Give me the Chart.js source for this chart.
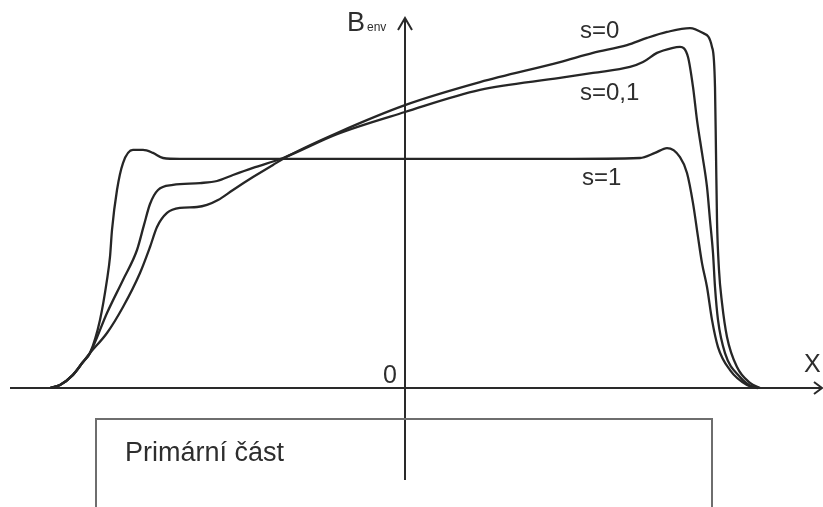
<!DOCTYPE html>
<html>
<head>
<meta charset="utf-8">
<script src="https://cdn.jsdelivr.net/npm/chart.js@4/dist/chart.umd.min.js"></script>
<style>
  html, body { margin: 0; padding: 0; background: #fff; }
  #wrap { width: 823px; height: 507px; }
</style>
</head>
<body>
<div id="wrap"><canvas id="envChart"></canvas></div>
<script>
// X position (relative units, 0 = axis) and B_env (relative, 1 = plateau of s=1)
const s1X = [-3.55, -3.45, -3.32, -3.22, -3.15, -3.05, -2.98, -2.95, -2.93, -2.88, -2.82, -2.72, -2.62, -2.52, -2.42, -2.25,
             -1.65, 0, 1.55, 2.35, 2.50, 2.62, 2.75, 2.82, 2.88, 2.93, 2.97, 3.02, 3.07, 3.13, 3.25, 3.42, 3.52];
const s1B = [0, 0.013, 0.057, 0.113, 0.152, 0.296, 0.470, 0.570, 0.687, 0.861, 0.978, 1.035, 1.035, 1.022, 1.000, 0.996,
             0.996, 0.996, 0.996, 1.0, 1.022, 1.043, 1.004, 0.935, 0.804, 0.657, 0.543, 0.439, 0.296, 0.178, 0.078, 0.013, 0];

const s01X = [-3.55, -3.45, -3.32, -3.22, -3.15, -2.98, -2.82, -2.68, -2.61, -2.55, -2.47, -2.32, -2.05, -1.88, -1.72, -1.52, -1.22,
              -0.68, 0, 0.75, 1.55, 1.88, 2.25, 2.38, 2.52, 2.67, 2.75, 2.83, 2.88, 2.92, 2.97, 3.02, 3.05, 3.08, 3.10,
              3.13, 3.20, 3.35, 3.48, 3.53];
const s01B = [0, 0.013, 0.057, 0.113, 0.152, 0.326, 0.470, 0.600, 0.709, 0.800, 0.861, 0.883, 0.891, 0.900, 0.926, 0.957, 1.0,
              1.104, 1.200, 1.296, 1.348, 1.370, 1.396, 1.417, 1.457, 1.478, 1.483, 1.439, 1.309, 1.165, 1.022, 0.874, 0.730, 0.587, 0.439,
              0.296, 0.152, 0.048, 0.004, 0];

const s0X = [-3.55, -3.45, -3.32, -3.22, -3.15, -2.98, -2.82, -2.65, -2.55, -2.48, -2.38, -2.25, -2.08, -1.98, -1.87, -1.72, -1.52, -1.32, -1.15,
             -0.68, 0, 0.75, 1.55, 1.88, 2.22, 2.42, 2.62, 2.85, 2.98, 3.07, 3.10, 3.11, 3.12, 3.14,
             3.17, 3.22, 3.32, 3.45, 3.55];
const s0B = [0, 0.013, 0.057, 0.113, 0.152, 0.239, 0.352, 0.500, 0.613, 0.700, 0.761, 0.783, 0.787, 0.796, 0.817, 0.861, 0.917, 0.970, 1.013,
             1.109, 1.230, 1.330, 1.417, 1.457, 1.491, 1.522, 1.548, 1.565, 1.543, 1.483, 1.309, 1.022, 0.730, 0.513,
             0.370, 0.222, 0.091, 0.022, 0];

const seriesLabels = ['s=0', 's=0,1', 's=1'];

const toPts = (xs, ys) => xs.map((x, i) => ({ x: x, y: ys[i] }));

const lineStyle = {
    showLine: true,
    borderColor: '#262626',
    borderWidth: 2.3,
    pointRadius: 0,
    fill: false,
    cubicInterpolationMode: 'monotone'
};

// axes, arrows, labels and the "primary part" box
const sketchPlugin = {
    id: 'sketch',
    beforeDatasetsDraw(chart) {
        const ctx = chart.ctx;
        const xs = chart.scales.x, ys = chart.scales.y;
        const x0 = xs.getPixelForValue(0), y0 = ys.getPixelForValue(0);
        ctx.save();
        ctx.strokeStyle = '#2a2a2a';
        ctx.lineWidth = 2;
        ctx.beginPath();
        // x axis
        ctx.moveTo(10, y0); ctx.lineTo(822, y0);
        ctx.moveTo(814, y0 - 6); ctx.lineTo(822, y0); ctx.lineTo(814, y0 + 6);
        // y axis
        ctx.moveTo(x0, 480); ctx.lineTo(x0, 18);
        ctx.moveTo(x0 - 7, 30); ctx.lineTo(x0, 18); ctx.lineTo(x0 + 7, 30);
        ctx.stroke();
        ctx.restore();
    },
    afterDatasetsDraw(chart) {
        const ctx = chart.ctx;
        const xs = chart.scales.x, ys = chart.scales.y;
        const x0 = xs.getPixelForValue(0), y0 = ys.getPixelForValue(0);
        ctx.save();
        // box
        ctx.strokeStyle = '#6e6e6e';
        ctx.lineWidth = 2;
        ctx.beginPath();
        ctx.moveTo(96, 507); ctx.lineTo(96, 419); ctx.lineTo(712, 419); ctx.lineTo(712, 507);
        ctx.stroke();

        ctx.fillStyle = '#2e2e2e';
        ctx.textBaseline = 'alphabetic';
        ctx.textAlign = 'left';
        ctx.font = '27px "Liberation Sans", Arial, sans-serif';
        ctx.fillText('Primární část', 125, 461);

        ctx.font = '25px "Liberation Sans", Arial, sans-serif';
        ctx.fillText('0', x0 - 22, y0 - 5);
        ctx.fillText('X', 804, 372);

        ctx.font = '27px "Liberation Sans", Arial, sans-serif';
        ctx.fillText('B', 347, 31);
        ctx.font = '12px "Liberation Sans", Arial, sans-serif';
        ctx.fillText('env', 367, 31);

        ctx.font = '24px "Liberation Sans", Arial, sans-serif';
        ctx.fillText(seriesLabels[0], 580, 38);
        ctx.fillText(seriesLabels[1], 580, 100);
        ctx.fillText(seriesLabels[2], 582, 185);
        ctx.restore();
    }
};

new Chart(document.getElementById('envChart').getContext('2d'), {
    type: 'scatter',
    data: {
        datasets: [
            Object.assign({ label: seriesLabels[0], data: toPts(s0X, s0B) }, lineStyle),
            Object.assign({ label: seriesLabels[1], data: toPts(s01X, s01B) }, lineStyle),
            Object.assign({ label: seriesLabels[2], data: toPts(s1X, s1B) }, lineStyle)
        ]
    },
    options: {
        responsive: true,
        maintainAspectRatio: false,
        animation: false,
        layout: { padding: 0 },
        plugins: { legend: { display: false }, tooltip: { enabled: false } },
        scales: {
            x: { type: 'linear', display: false, min: -4.05, max: 4.18 },
            y: { type: 'linear', display: false, min: -119 / 230, max: 388 / 230 }
        }
    },
    plugins: [sketchPlugin]
});
</script>
</body>
</html>
